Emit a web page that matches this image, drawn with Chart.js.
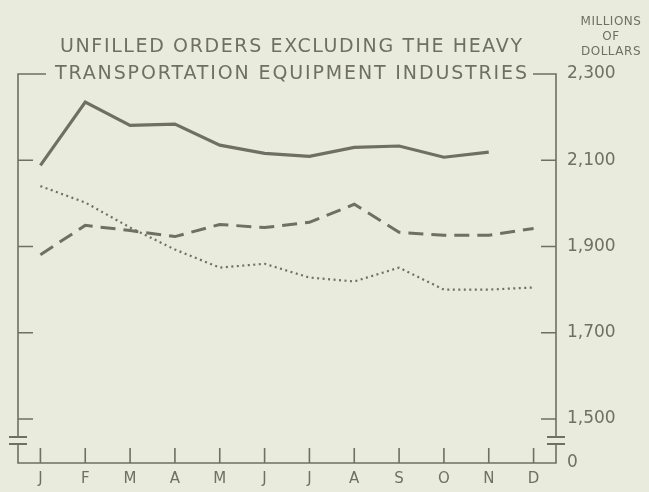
<!DOCTYPE html>
<html>
<head>
<meta charset="utf-8">
<style>
    html, body { margin: 0; padding: 0; background: #e9ecdc; }
    #wrap { width: 649px; height: 492px; position: relative; }
</style>
</head>
<body>
<div id="wrap"><canvas id="myChart" width="649" height="492"></canvas></div>

<script src="https://cdn.jsdelivr.net/npm/chart.js@4/dist/chart.umd.min.js"></script>
<script>
    // values, millions of dollars
    const months = ['J', 'F', 'M', 'A', 'M', 'J', 'J', 'A', 'S', 'O', 'N', 'D'];
    const solidSeries = [2088, 2235, 2181, 2184, 2135, 2116, 2109, 2130, 2133, 2107, 2119, null];
    const dashedSeries = [1881, 1949, 1937, 1923, 1951, 1944, 1956, 1998, 1933, 1926, 1926, 1942];
    const dottedSeries = [2040, 2002, 1944, 1893, 1851, 1860, 1828, 1819, 1851, 1800, 1800, 1805];

    const yTicks = [1500, 1700, 1900, 2100, 2300];
    const yBreakBottom = 1398;   // stands for the "0" at the foot of the broken axis
    const titleLines = ['UNFILLED ORDERS EXCLUDING THE HEAVY', 'TRANSPORTATION EQUIPMENT INDUSTRIES'];
    const unitLines = ['MILLIONS', 'OF', 'DOLLARS'];

    const ink = '#6f6f64';
    const fontFam = '"DejaVu Sans", sans-serif';

    // draws the frame, tick marks, axis breaks, title and unit label
    const framePlugin = {
        id: 'frame',
        afterDraw(chart) {
            const ctx = chart.ctx;
            const area = chart.chartArea;
            const x = chart.scales.x;
            const y = chart.scales.y;
            const top = y.getPixelForValue(2300);
            const base = y.getPixelForValue(yBreakBottom);
            const brk1 = base - 26, brk2 = base - 19;

            ctx.save();
            ctx.strokeStyle = ink;
            ctx.lineWidth = 1.6;
            ctx.lineCap = 'butt';

            ctx.beginPath();
            // left axis
            ctx.moveTo(area.left + 28, top);
            ctx.lineTo(area.left, top);
            ctx.lineTo(area.left, brk1);
            ctx.moveTo(area.left, brk2);
            ctx.lineTo(area.left, base);
            ctx.lineTo(area.right, base);
            ctx.lineTo(area.right, brk2);
            ctx.moveTo(area.right, brk1);
            ctx.lineTo(area.right, top);
            ctx.lineTo(area.right - 23, top);

            // value ticks on both sides
            yTicks.forEach(v => {
                if (v === 2300) return;
                const py = y.getPixelForValue(v);
                ctx.moveTo(area.left, py);
                ctx.lineTo(area.left + 15, py);
                ctx.moveTo(area.right, py);
                ctx.lineTo(area.right - 15, py);
            });

            // month ticks
            months.forEach((m, i) => {
                const px = x.getPixelForValue(i);
                ctx.moveTo(px, base);
                ctx.lineTo(px, base - 15);
            });
            ctx.stroke();

            // axis break marks
            ctx.lineWidth = 2.2;
            ctx.beginPath();
            [area.left, area.right].forEach(ax => {
                ctx.moveTo(ax - 9, brk1);
                ctx.lineTo(ax + 9, brk1);
                ctx.moveTo(ax - 9, brk2);
                ctx.lineTo(ax + 9, brk2);
            });
            ctx.stroke();

            // title, stretched to the width in the picture
            ctx.fillStyle = ink;
            ctx.textBaseline = 'middle';
            ctx.textAlign = 'left';
            ctx.font = '19px ' + fontFam;
            const spans = [[60, 522, 47], [55, 527, 74]];
            titleLines.forEach((t, i) => {
                const [x0, x1, ty] = spans[i];
                ctx.letterSpacing = '0px';
                const w = ctx.measureText(t).width;
                ctx.letterSpacing = ((x1 - x0 - w) / (t.length - 1)) + 'px';
                ctx.fillText(t, x0, ty);
            });
            ctx.letterSpacing = '0.5px';

            // unit label
            ctx.font = '12px ' + fontFam;
            ctx.textAlign = 'center';
            unitLines.forEach((t, i) => {
                ctx.fillText(t, 611, 22 + i * 15);
            });
            ctx.restore();
        }
    };

    const ctx = document.getElementById('myChart');

    let chart = new Chart(ctx, {
        type: 'line',
        data: {
            labels: months,
            datasets: [{
                label: 'solid',
                data: solidSeries,
                borderColor: ink,
                borderWidth: 3.2
            }, {
                label: 'dashed',
                data: dashedSeries,
                borderColor: ink,
                borderWidth: 3,
                borderDash: [15, 8]
            }, {
                label: 'dotted',
                data: dottedSeries,
                borderColor: ink,
                borderWidth: 2.2,
                borderDash: [2, 3.5]
            }]
        },
        options: {
            responsive: false,
            animation: false,
            spanGaps: false,
            elements: {
                point: { radius: 0 },
                line: { tension: 0, fill: false, borderCapStyle: 'butt' }
            },
            layout: {
                padding: { left: 18, top: 74, right: 0, bottom: 0 }
            },
            plugins: {
                legend: { display: false },
                tooltip: { enabled: false }
            },
            scales: {
                x: {
                    offset: true,
                    border: { display: false },
                    grid: { display: false, drawTicks: false },
                    ticks: {
                        color: ink,
                        font: { family: fontFam, size: 15 },
                        padding: 7,
                        maxRotation: 0,
                        autoSkip: false
                    },
                    afterFit: s => { s.height = 29; }
                },
                y: {
                    position: 'right',
                    min: yBreakBottom,
                    max: 2300,
                    border: { display: false },
                    grid: { display: false, drawTicks: false },
                    afterBuildTicks: axis => {
                        axis.ticks = [yBreakBottom].concat(yTicks).map(v => ({ value: v }));
                    },
                    ticks: {
                        color: ink,
                        font: { family: fontFam, size: 17 },
                        padding: 11,
                        callback: v => v === yBreakBottom ? '0' : v.toLocaleString('en-US')
                    },
                    afterFit: s => { s.width = 93; }
                }
            }
        },
        plugins: [framePlugin]
    });
</script>
</body>
</html>
